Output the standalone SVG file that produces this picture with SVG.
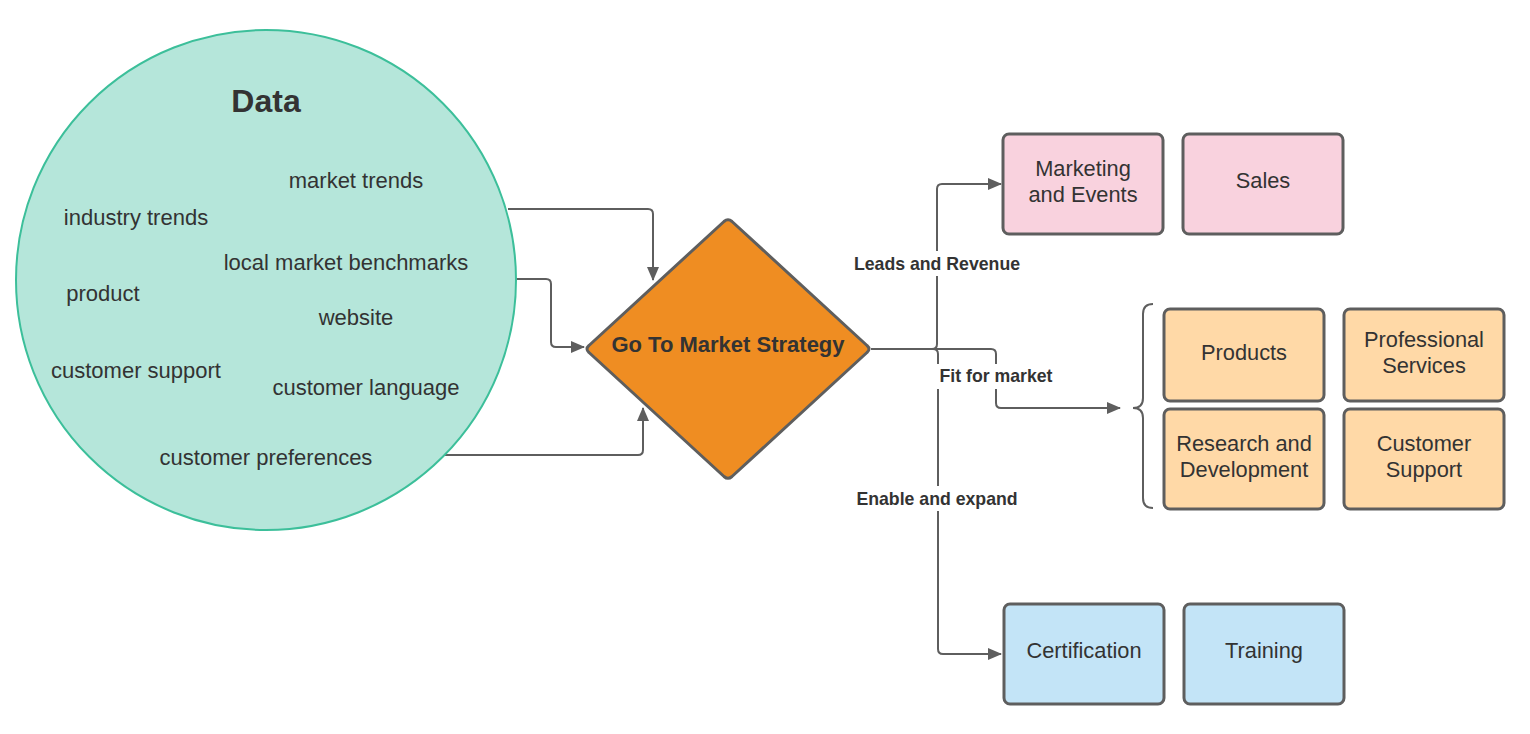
<svg xmlns="http://www.w3.org/2000/svg" width="1530" height="734" viewBox="0 0 1530 734">
<style>
.item{font-family:"Liberation Sans",Arial,sans-serif;font-size:22px;fill:#333333;text-anchor:middle}
.box{stroke:#5e5e5e;stroke-width:3}
.btxt{font-family:"Liberation Sans",Arial,sans-serif;font-size:21.8px;fill:#333333;text-anchor:middle}
.lbl{font-family:"Liberation Sans",Arial,sans-serif;font-size:17.7px;font-weight:bold;fill:#333333;text-anchor:middle}
.conn{fill:none;stroke:#5e5e5e;stroke-width:2}
</style>
<defs>
<marker id="arr" viewBox="0 0 14 12" refX="13" refY="6" markerWidth="14" markerHeight="12" markerUnits="userSpaceOnUse" orient="auto">
<path d="M0,0 L14,6 L0,12 z" fill="#5e5e5e"/>
</marker>
</defs>
<rect width="1530" height="734" fill="#ffffff"/>

<g id="connectors">
<path class="conn" d="M508,209 H648 Q653,209 653,214 V280" marker-end="url(#arr)"/>
<path class="conn" d="M516,279 H546 Q551,279 551,284 V342 Q551,347 556,347 H584" marker-end="url(#arr)"/>
<path class="conn" d="M444,455 H638 Q643,455 643,450 V408" marker-end="url(#arr)"/>
<path class="conn" d="M871,349 H932 Q937,349 937,344 V189 Q937,184 942,184 H1001" marker-end="url(#arr)"/>
<path class="conn" d="M871,349 H933 Q938,349 938,354 V649 Q938,654 943,654 H1001" marker-end="url(#arr)"/>
<path class="conn" d="M871,349 H991 Q996,349 996,354 V403 Q996,408 1001,408 H1120" marker-end="url(#arr)"/>
<path class="conn" stroke-width="3" d="M1153,304 Q1143,304 1143,314 V398 Q1143,408 1133,408 Q1143,408 1143,418 V498 Q1143,508 1153,508"/>
<rect x="851" y="251" width="172" height="25" fill="#ffffff"/>
<text class="lbl" x="937" y="270">Leads and Revenue</text>
<rect x="937" y="364" width="119" height="25" fill="#ffffff"/>
<text class="lbl" x="996" y="382">Fit for market</text>
<rect x="854" y="486" width="167" height="25" fill="#ffffff"/>
<text class="lbl" x="937" y="505">Enable and expand</text>
</g>

<g id="data">
<circle cx="266" cy="280" r="250" fill="#b5e6da" stroke="#3cbf9a" stroke-width="2"/>
<text x="266" y="112" font-family="Liberation Sans,Arial,sans-serif" font-size="32" font-weight="bold" fill="#333333" text-anchor="middle">Data</text>
<text class="item" x="356" y="188">market trends</text>
<text class="item" x="136" y="225">industry trends</text>
<text class="item" x="346" y="270">local market benchmarks</text>
<text class="item" x="103" y="301">product</text>
<text class="item" x="356" y="325">website</text>
<text class="item" x="136" y="378">customer support</text>
<text class="item" x="366" y="395">customer language</text>
<text class="item" x="266" y="465">customer preferences</text>
</g>

<g id="gtm">
<path d="M724,221.5 Q728,218 732,221.5 L867,345.5 Q871,349 867,352.5 L732,476.5 Q728,480 724,476.5 L589,352.5 Q585,349 589,345.5 Z" fill="#ef8d22" stroke="#5e5e5e" stroke-width="3" stroke-linejoin="round"/>
<text x="728" y="352" font-family="Liberation Sans,Arial,sans-serif" font-size="22" font-weight="bold" fill="#333333" text-anchor="middle">Go To Market Strategy</text>
</g>

<g id="marketing">
<rect class="box" x="1003" y="134" width="160" height="100" rx="6" fill="#f9d2de"/>
<text class="btxt" x="1083" y="176">Marketing</text>
<text class="btxt" x="1083" y="202">and Events</text>
</g>
<g id="sales">
<rect class="box" x="1183" y="134" width="160" height="100" rx="6" fill="#f9d2de"/>
<text class="btxt" x="1263" y="188">Sales</text>
</g>

<g id="products">
<rect class="box" x="1164" y="309" width="160" height="92" rx="6" fill="#ffd9a7"/>
<text class="btxt" x="1244" y="360">Products</text>
</g>
<g id="profservices">
<rect class="box" x="1344" y="309" width="160" height="92" rx="6" fill="#ffd9a7"/>
<text class="btxt" x="1424" y="347">Professional</text>
<text class="btxt" x="1424" y="373">Services</text>
</g>
<g id="rnd">
<rect class="box" x="1164" y="409" width="160" height="100" rx="6" fill="#ffd9a7"/>
<text class="btxt" x="1244" y="451">Research and</text>
<text class="btxt" x="1244" y="477">Development</text>
</g>
<g id="custsupport">
<rect class="box" x="1344" y="409" width="160" height="100" rx="6" fill="#ffd9a7"/>
<text class="btxt" x="1424" y="451">Customer</text>
<text class="btxt" x="1424" y="477">Support</text>
</g>

<g id="certification">
<rect class="box" x="1004" y="604" width="160" height="100" rx="6" fill="#c3e4f7"/>
<text class="btxt" x="1084" y="658">Certification</text>
</g>
<g id="training">
<rect class="box" x="1184" y="604" width="160" height="100" rx="6" fill="#c3e4f7"/>
<text class="btxt" x="1264" y="658">Training</text>
</g>
</svg>
